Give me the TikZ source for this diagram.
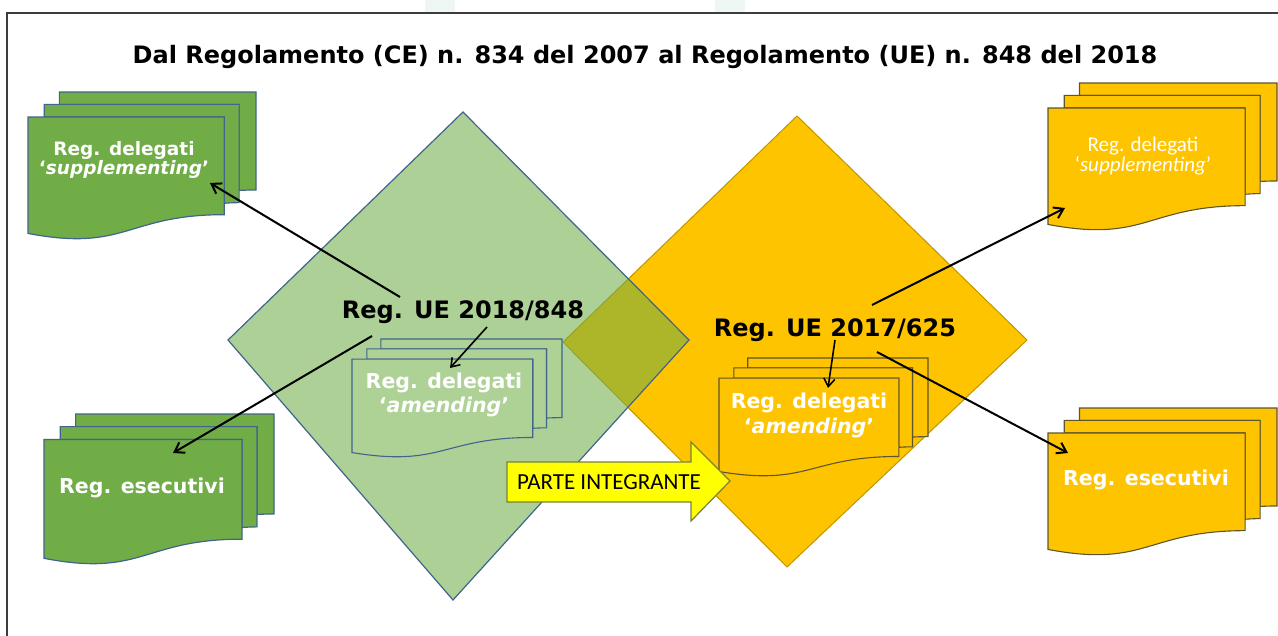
\documentclass[tikz,border=0pt]{standalone}
\usepackage{fontspec}
\setmainfont{DejaVu Sans}
\newfontfamily\calfont{Carlito}
\usetikzlibrary{arrows.meta}
\definecolor{gfill}{RGB}{112,173,71}
\definecolor{gline}{RGB}{65,100,140}
\definecolor{lgfill}{RGB}{174,209,150}
\definecolor{yfill}{RGB}{255,196,0}
\definecolor{yline}{RGB}{95,85,45}
\definecolor{ydline}{RGB}{190,150,0}
\definecolor{afill}{RGB}{255,255,0}
\definecolor{aline}{RGB}{120,130,60}
\definecolor{framec}{RGB}{60,60,60}
\definecolor{faintc}{RGB}{238,247,244}
% multidocument stack: #1 name, #2 x0, #3 y0, #4 w, #5 h, #6 style
\newcommand{\mdoc}[6]{%
  \begin{scope}[shift={(#2,#3)},xscale=#4,yscale=#5]
    \draw[#6] (0.1376,0.0840) -- (0.1376,0) -- (1,0) -- (1,0.6663)
      .. controls (0.963,0.6663) and (0.926,0.6698) .. (0.926,0.6698)
      -- (0.926,0.0840) -- cycle;
    \draw[#6] (0.0709,0.1701) -- (0.0709,0.0840) -- (0.926,0.0840) -- (0.926,0.7524)
      .. controls (0.8935,0.7524) and (0.8609,0.757) .. (0.8609,0.757)
      -- (0.8609,0.1701) -- cycle;
    \draw[#6] (0,0.9621) .. controls (0.4305,1.0899) and (0.4305,0.8344) .. (0.8609,0.8344)
      -- (0.8609,0.1701) -- (0,0.1701) -- cycle;
    \coordinate (#1) at (0.43,0.5);
  \end{scope}}
\begin{document}
\begin{tikzpicture}[x=1pt,y=-1pt,
  gdoc/.style={fill=gfill,draw=gline,line width=1.2pt,line join=miter},
  lgdoc/.style={fill=lgfill,draw=gline,line width=1.1pt},
  ydoc/.style={fill=yfill,draw=yline,line width=1.1pt},
  wlabel/.style={text=white,align=center,inner sep=0pt},
  biglabel/.style={text=black,inner sep=0pt,font=\fontsize{24}{28}\selectfont\bfseries},
  bigarrow/.style={line width=2pt,-{Straight Barb[length=9pt,width=12pt,line width=2pt]}},
  smallarrow/.style={line width=1.6pt,-{Straight Barb[length=8pt,width=11pt,line width=1.6pt]}}]
\useasboundingbox (0,0) rectangle (1278,635);
\fill[white] (0,0) rectangle (1278,635);
% faint marks at top
\fill[faintc] (425,0) rectangle (455,13);
\fill[faintc] (715,0) rectangle (745,13);
% frame
\draw[framec,line width=1.2pt] (7,13) rectangle (1300,660);
% title
\node[inner sep=0pt,font=\fontsize{24}{28}\selectfont\bfseries] (title) at (645,57)
  {Dal Regolamento (CE) n. 834 del 2007 al Regolamento (UE) n. 848 del 2018};
% diamonds
\draw[fill=yfill,draw=ydline,line width=1pt] (797,116) -- (1027,340) -- (787,567) -- (563,342) -- cycle;
\draw[fill=gfill,fill opacity=0.57,draw=gline,line width=1.2pt] (463,112) -- (689,340) -- (453,600) -- (228,340) -- cycle;
% stacks
\mdoc{gsd}{28}{92}{228}{147}{gdoc}
\mdoc{ged}{44}{414}{230}{150}{gdoc}
\mdoc{gad}{352}{339}{210}{118}{lgdoc}
\mdoc{yad}{719}{358}{209}{118}{ydoc}
\mdoc{ysd}{1048}{83}{229}{147}{ydoc}
\mdoc{yed}{1048}{408}{229}{147}{ydoc}
% labels
\node[wlabel,font=\fontsize{18.5}{17.5}\selectfont\bfseries] (gs) at (124,160)
  {Reg. delegati\\‘\textit{supplementing}’};
\node[wlabel,font=\fontsize{20.5}{24}\selectfont\bfseries] (ge) at (142,488) {Reg. esecutivi};
\node[wlabel,font=\fontsize{20.5}{24}\selectfont\bfseries] (ga) at (444,395)
  {Reg. delegati\\‘\textit{amending}’};
\node[wlabel,font=\fontsize{20.5}{25}\selectfont\bfseries] (ya) at (809,415)
  {Reg. delegati\\‘\textit{amending}’};
\node[wlabel,font=\calfont\fontsize{21}{20}\selectfont] (ys) at (1143,156)
  {Reg. delegati\\‘\textit{supplementing}’};
\node[wlabel,font=\fontsize{20.5}{24}\selectfont\bfseries] (ye) at (1146,480) {Reg. esecutivi};
\node[biglabel] (t848) at (463,312) {Reg. UE 2018/848};
\node[biglabel] (t625) at (835,330) {Reg. UE 2017/625};
% connector end points
\coordinate (g1s) at (400,297); \coordinate (g1e) at (210,183);
\coordinate (g2s) at (372,336); \coordinate (g2e) at (173,453);
\coordinate (gas) at (487,327); \coordinate (gae) at (450,368);
\coordinate (y1s) at (872,305); \coordinate (y1e) at (1065,208);
\coordinate (y2s) at (877,352); \coordinate (y2e) at (1068,453);
\coordinate (yas) at (835,340); \coordinate (yae) at (828,388);
\draw[bigarrow] (g1s) -- (g1e);
\draw[bigarrow] (g2s) -- (g2e);
\draw[smallarrow] (gas) -- (gae);
\draw[bigarrow] (y1s) -- (y1e);
\draw[bigarrow] (y2s) -- (y2e);
\draw[smallarrow] (yas) -- (yae);
% PARTE INTEGRANTE arrow
\draw[fill=afill,draw=aline,line width=1.2pt,line join=miter]
  (507,462) -- (691,462) -- (691,442) -- (730,481) -- (691,521) -- (691,502) -- (507,502) -- cycle;
\node[inner sep=0pt,font=\calfont\fontsize{23}{24}\selectfont] (parte) at (609,482) {PARTE INTEGRANTE};
\end{tikzpicture}
\end{document}
